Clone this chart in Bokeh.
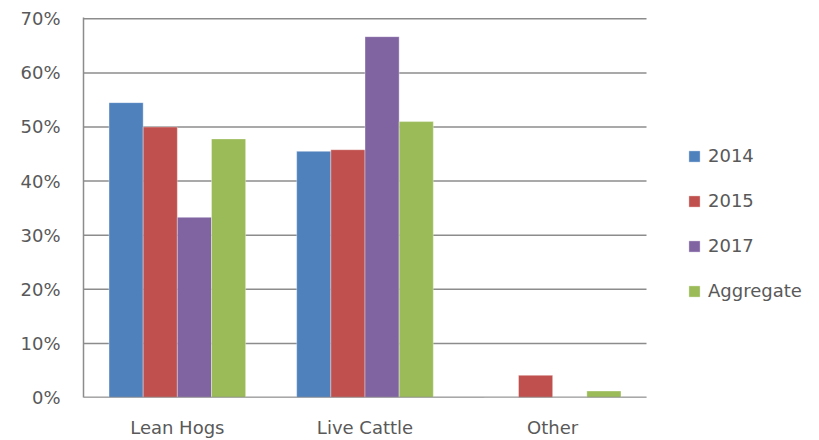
import numpy as np
from bokeh.plotting import figure
from bokeh.models import (ColumnDataSource, Range1d, FixedTicker,
                          NumeralTickFormatter, Legend, LegendItem)
from bokeh.transform import dodge
from bokeh.embed import file_html
from bokeh.resources import INLINE

# Share of contracts by commodity
categories = ["Lean Hogs", "Live Cattle", "Other"]
series_names = ["2014", "2015", "2017", "Aggregate"]
vals_2014 = [0.545, 0.455, 0.0]
vals_2015 = [0.500, 0.458, 0.041]
vals_2017 = [0.333, 0.667, 0.0]
vals_aggregate = [0.478, 0.510, 0.012]
y_ticks = [0.0, 0.1, 0.2, 0.3, 0.4, 0.5, 0.6, 0.7]

colors = ["#4F81BD", "#C0504D", "#8064A2", "#9BBB59"]
TEXT = "#595959"
GRID = "#8C8C8C"
FONT = "DejaVu Sans"

# categories sit at the centres of unit-wide slots: 0.5, 1.5, 2.5
n_cat = len(categories)
centers = np.arange(n_cat) + 0.5

source = ColumnDataSource(data=dict(
    x=centers, s2014=vals_2014, s2015=vals_2015,
    s2017=vals_2017, agg=vals_aggregate))

# The frame runs on past the last category so the legend has room inside it;
# the category area keeps its width of 563 px out of a 727 px frame.
frame_left, frame_right, cat_right = 83, 810, 646
x_end = n_cat * (frame_right - frame_left) / (cat_right - frame_left)

# y range a hair above 70% so the top gridline is not clipped by the frame
p = figure(width=819, height=440, output_backend="svg", toolbar_location=None,
           x_range=Range1d(0, x_end), y_range=Range1d(0, 0.7024))
p.min_border_left = frame_left
p.min_border_right = 819 - frame_right
p.min_border_top = 17
p.min_border_bottom = 43
p.outline_line_color = None
p.background_fill_color = "white"
p.border_fill_color = "white"

# horizontal gridlines across the category area only
p.segment(x0=0, x1=n_cat, y0=y_ticks, y1=y_ticks,
          line_color=GRID, line_width=1.5)

bar_w = 0.182
offsets = [-1.5 * bar_w, -0.5 * bar_w, 0.5 * bar_w, 1.5 * bar_w]
fields = ["s2014", "s2015", "s2017", "agg"]
renderers = []
for f, off, c in zip(fields, offsets, colors):
    r = p.vbar(x=dodge("x", off), top=f, width=bar_w,
               source=source, fill_color=c, line_color="white",
               line_width=0.6, line_alpha=0.6)
    renderers.append(r)

# baseline drawn over the bar bottoms
p.segment(x0=[0], x1=[n_cat], y0=[0], y1=[0], line_color=GRID, line_width=1.5)

# Axes
p.yaxis.ticker = FixedTicker(ticks=y_ticks)
p.yaxis.formatter = NumeralTickFormatter(format="0%")
p.xaxis.ticker = FixedTicker(ticks=list(centers))
p.xaxis.major_label_overrides = {float(c): name for c, name in zip(centers, categories)}
for ax in (p.xaxis[0], p.yaxis[0]):
    ax.axis_line_color = GRID
    ax.axis_line_width = 1.5
    ax.major_tick_line_color = None
    ax.minor_tick_line_color = None
    ax.major_label_text_font = FONT
    ax.major_label_text_font_size = "18px"
    ax.major_label_text_color = TEXT
p.xaxis.axis_line_color = None
p.yaxis.major_label_standoff = 17
p.xaxis.major_label_standoff = 13

p.xgrid.grid_line_color = None
p.ygrid.grid_line_color = None

legend = Legend(items=[LegendItem(label=n, renderers=[r])
                       for n, r in zip(series_names, renderers)],
                location=(604, 96), orientation="vertical")
legend.label_text_font = FONT
legend.label_text_font_size = "18px"
legend.label_text_color = TEXT
legend.glyph_width = 14
legend.glyph_height = 14
legend.label_height = 14
legend.label_standoff = 7
legend.spacing = 24
legend.padding = 0
legend.margin = 0
legend.border_line_color = None
legend.background_fill_alpha = 0
p.add_layout(legend, "center")

open("out.html", "w").write(file_html(p, INLINE))
